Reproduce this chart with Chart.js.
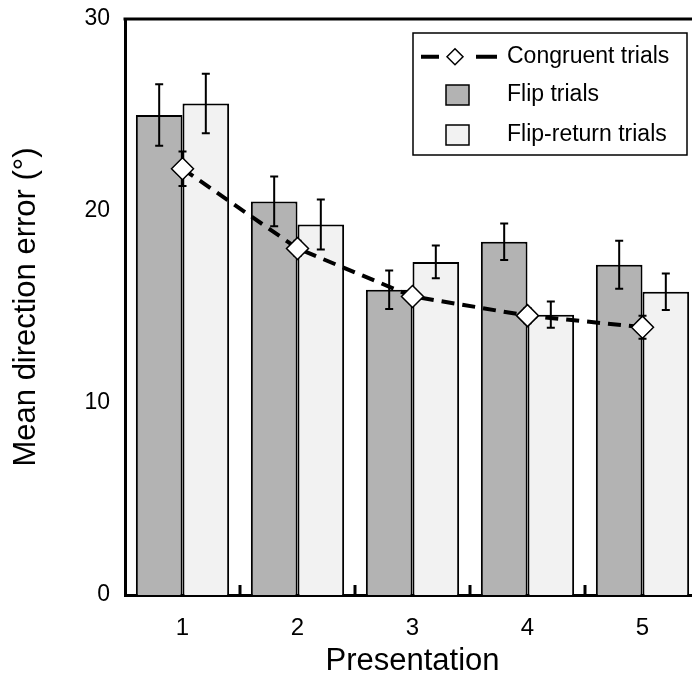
<!DOCTYPE html>
<html>
<head>
<meta charset="utf-8">
<script src="https://cdn.jsdelivr.net/npm/chart.js@4.4.1/dist/chart.umd.min.js"></script>
<style>
  html, body { margin: 0; padding: 0; background: #fff; overflow: hidden; }
  #wrap { width: 692px; height: 687px; overflow: hidden; }
</style>
</head>
<body>
<div id="wrap"><canvas id="chart" width="740" height="687" style="width:740px;height:687px"></canvas></div>
<script>
const FONT = "'Liberation Sans', Arial, Helvetica, sans-serif";

// data
const categories = ["1", "2", "3", "4", "5"];
const congruent = [22.2, 18.05, 15.55, 14.55, 13.95];
const congruentErr = [0.9, 0.4, 0.35, 0.4, 0.6];
const flip = [25.0, 20.5, 15.9, 18.4, 17.2];
const flipErr = [1.6, 1.3, 1.0, 0.95, 1.25];
const flipReturn = [25.6, 19.3, 17.35, 14.6, 15.8];
const flipReturnErr = [1.55, 1.3, 0.85, 0.68, 0.95];
const yTicks = [0, 10, 20, 30];

// vertical error bars with caps, computed from the y scale
function drawErrors(chart, meta, values, errs) {
  const ctx = chart.ctx;
  const y = chart.scales.y;
  ctx.save();
  ctx.strokeStyle = "#000";
  ctx.lineWidth = 2;
  meta.data.forEach((el, i) => {
    const hi = y.getPixelForValue(values[i] + errs[i]);
    const lo = y.getPixelForValue(values[i] - errs[i]);
    ctx.beginPath();
    ctx.moveTo(el.x, hi);
    ctx.lineTo(el.x, lo);
    ctx.moveTo(el.x - 4, hi);
    ctx.lineTo(el.x + 4, hi);
    ctx.moveTo(el.x - 4, lo);
    ctx.lineTo(el.x + 4, lo);
    ctx.stroke();
  });
  ctx.restore();
}

const errorBars = {
  id: "errorBars",
  beforeDatasetDraw(chart, args) {
    const ds = chart.data.datasets[args.index];
    if (ds.type === "line") drawErrors(chart, args.meta, ds.data, ds.errors);
  },
  afterDatasetDraw(chart, args) {
    const ds = chart.data.datasets[args.index];
    if (ds.type !== "line") drawErrors(chart, args.meta, ds.data, ds.errors);
  }
};

// top frame line and short inward ticks between the groups
const frame = {
  id: "frame",
  afterDatasetsDraw(chart) {
    const { ctx, chartArea } = chart;
    const x = chart.scales.x;
    ctx.save();
    ctx.strokeStyle = "#000";
    ctx.lineWidth = 3;
    ctx.beginPath();
    ctx.moveTo(chartArea.left - 1.5, chartArea.top);
    ctx.lineTo(chartArea.right, chartArea.top);
    ctx.stroke();
    for (let i = 0; i < categories.length - 1; i++) {
      const px = (x.getPixelForValue(i) + x.getPixelForValue(i + 1)) / 2;
      ctx.beginPath();
      ctx.moveTo(px, chartArea.bottom);
      ctx.lineTo(px, chartArea.bottom - 10);
      ctx.stroke();
    }
    ctx.restore();
  }
};

// boxed legend in the upper right of the plot
const boxLegend = {
  id: "boxLegend",
  afterDraw(chart) {
    const { ctx, chartArea } = chart;
    const bx = chartArea.left + 288;
    const by = chartArea.top + 14;
    const rows = [23.7, 62, 102];
    ctx.save();
    ctx.fillStyle = "#fff";
    ctx.fillRect(bx, by, 274, 122);
    ctx.strokeStyle = "#000";
    ctx.lineWidth = 1.5;
    ctx.strokeRect(bx, by, 274, 122);

    chart.data.datasets.forEach((ds, i) => {
      const ry = by + rows[i];
      if (ds.type === "line") {
        ctx.lineWidth = 4;
        ctx.beginPath();
        ctx.moveTo(bx + 8, ry);
        ctx.lineTo(bx + 26, ry);
        ctx.moveTo(bx + 63, ry);
        ctx.lineTo(bx + 84, ry);
        ctx.stroke();
        ctx.lineWidth = 1.5;
        ctx.fillStyle = "#fff";
        ctx.beginPath();
        ctx.moveTo(bx + 42, ry - 8);
        ctx.lineTo(bx + 50, ry);
        ctx.lineTo(bx + 42, ry + 8);
        ctx.lineTo(bx + 34, ry);
        ctx.closePath();
        ctx.fill();
        ctx.stroke();
      } else {
        ctx.lineWidth = 1.5;
        ctx.fillStyle = ds.backgroundColor;
        ctx.fillRect(bx + 33, ry - 10, 23, 20);
        ctx.strokeRect(bx + 33, ry - 10, 23, 20);
      }
      ctx.fillStyle = "#000";
      ctx.font = "23px " + FONT;
      ctx.textBaseline = "middle";
      ctx.textAlign = "left";
      ctx.fillText(ds.label, bx + 94, ry);
    });
    ctx.restore();
  }
};

new Chart(document.getElementById("chart"), {
  data: {
    labels: categories,
    datasets: [
      {
        type: "line",
        label: "Congruent trials",
        data: congruent,
        errors: congruentErr,
        borderColor: "#000",
        borderWidth: 4,
        borderDash: [13, 8],
        tension: 0,
        pointStyle: "rectRot",
        pointRadius: 11,
        pointBackgroundColor: "#fff",
        pointBorderColor: "#000",
        pointBorderWidth: 1.5
      },
      {
        type: "bar",
        label: "Flip trials",
        data: flip,
        errors: flipErr,
        backgroundColor: "#b3b3b3",
        borderColor: "#000",
        borderWidth: 2
      },
      {
        type: "bar",
        label: "Flip-return trials",
        data: flipReturn,
        errors: flipReturnErr,
        backgroundColor: "#f2f2f2",
        borderColor: "#000",
        borderWidth: 2
      }
    ]
  },
  options: {
    responsive: false,
    devicePixelRatio: 1,
    animation: false,
    layout: { padding: { top: 19, right: 40, left: 0, bottom: 0 } },
    datasets: { bar: { categoryPercentage: 0.811, barPercentage: 1 } },
    plugins: { legend: { display: false }, tooltip: { enabled: false } },
    scales: {
      x: {
        type: "category",
        offset: true,
        z: 1,
        grid: { display: false, drawTicks: false },
        border: { display: true, width: 3, color: "#000" },
        ticks: { color: "#000", padding: 19, font: { family: FONT, size: 24 } },
        title: {
          display: true,
          text: "Presentation",
          color: "#000",
          font: { family: FONT, size: 31, lineHeight: 1 },
          padding: { top: 0, bottom: 10 }
        },
        afterFit: (s) => { s.height = 92; s.paddingLeft = 0; s.paddingRight = 0; }
      },
      y: {
        min: 0,
        max: 30,
        z: 1,
        grid: { display: false, drawTicks: false },
        border: { display: true, width: 3, color: "#000" },
        afterBuildTicks: (s) => { s.ticks = yTicks.map((v) => ({ value: v })); },
        ticks: { color: "#000", padding: 15, font: { family: FONT, size: 23 } },
        title: {
          display: true,
          text: "Mean direction error (°)",
          color: "#000",
          font: { family: FONT, size: 31, lineHeight: 1 },
          padding: { top: 11, bottom: 0 }
        },
        afterFit: (s) => { s.width = 125; s.paddingTop = 0; s.paddingBottom = 0; }
      }
    }
  },
  plugins: [errorBars, frame, boxLegend]
});
</script>
</body>
</html>
